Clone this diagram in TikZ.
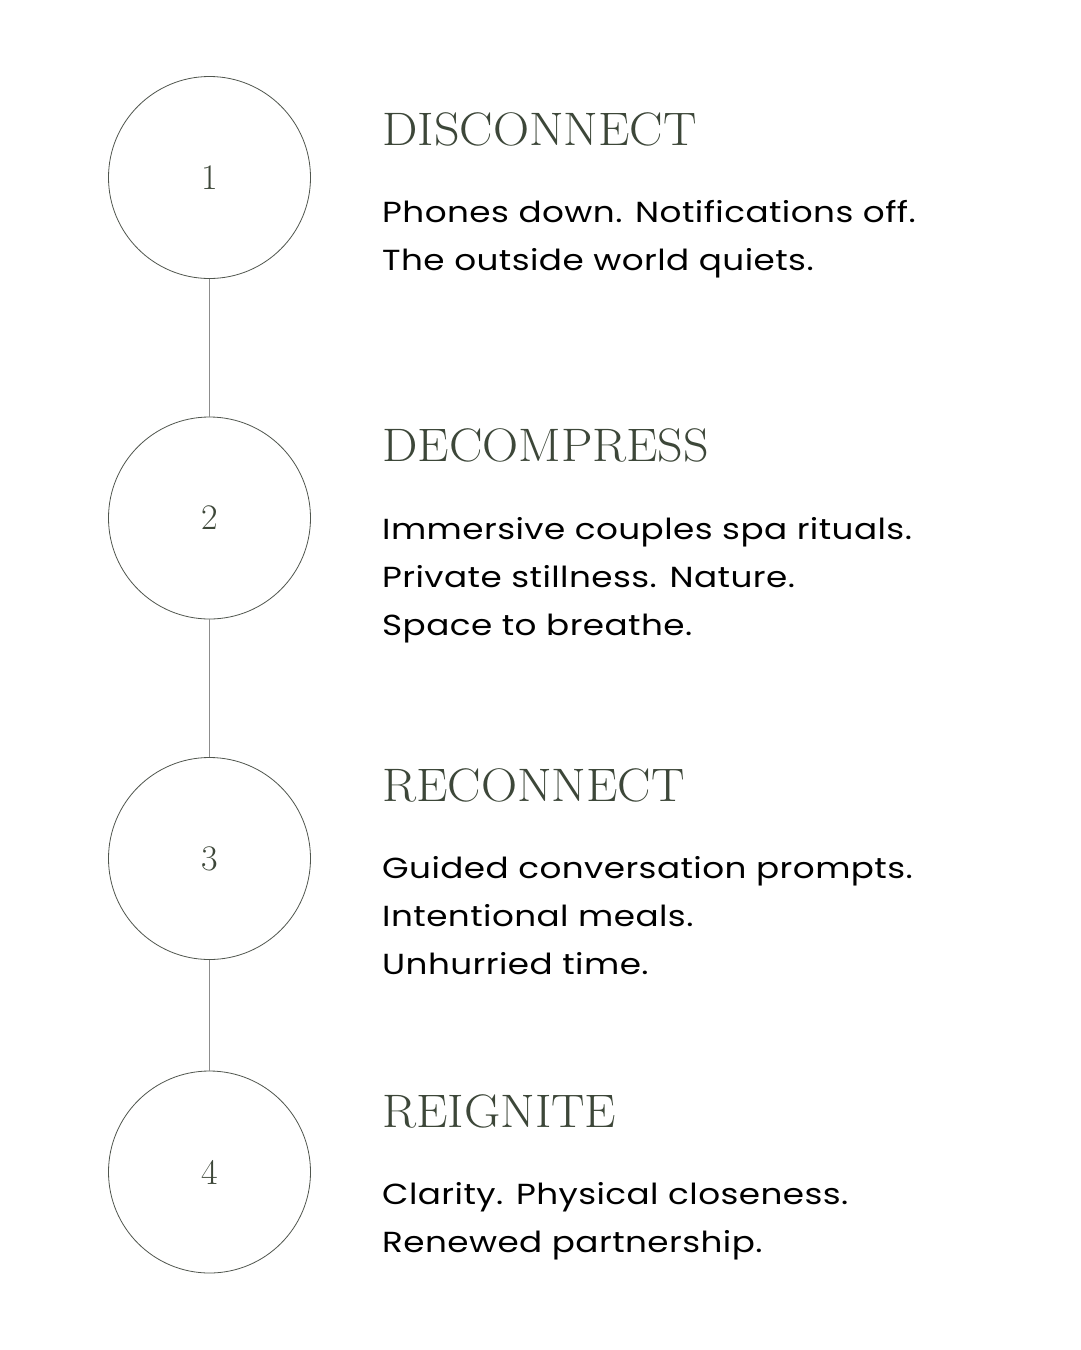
\documentclass[tikz,border=0pt]{standalone}
\usepackage{fontspec}
\newfontfamily\bodyfont[FakeStretch=1.18,LetterSpace=1.5]{Poppins}
\definecolor{ink}{HTML}{3D4739}
\definecolor{ring}{HTML}{50564E}
\definecolor{stem}{HTML}{8C8C8C}
\begin{document}
\begin{tikzpicture}[x=1pt,y=-1pt,
  stepcircle/.style={circle,draw=ring,line width=0.8pt,minimum size=202pt,inner sep=0pt,
    text=ink,font=\fontsize{36}{36}\selectfont},
  stem/.style={draw=stem,line width=1pt},
  title/.style={anchor=base west,inner sep=0pt,text=ink,font=\fontsize{47}{47}\selectfont},
  body/.style={anchor=base west,inner sep=0pt,align=left,text=black,
    font=\bodyfont\fontsize{29}{48}\selectfont}]
\useasboundingbox[fill=white] (0,0) rectangle (1080,1350);
\node[stepcircle] (c1) at (209.5,177.5) {1};
\node[stepcircle] (c2) at (209.5,518) {2};
\node[stepcircle] (c3) at (209.5,858.5) {3};
\node[stepcircle] (c4) at (209.5,1172) {4};
\draw[stem] (c1.south) -- (c2.north);
\draw[stem] (c2.south) -- (c3.north);
\draw[stem] (c3.south) -- (c4.north);
\node[title] (t1) at (382,145) {\scalebox{1.065}[1]{DISCONNECT}};
\node[title] (t2) at (382,461) {\scalebox{1.065}[1]{DECOMPRESS}};
\node[title] (t3) at (382,801) {\scalebox{1.065}[1]{RECONNECT}};
\node[title] (t4) at (382,1127) {\scalebox{1.065}[1]{REIGNITE}};
% anchor is the baseline of the last line
\node[body] (b1) at (382,270) {Phones down. Notifications off.\\The outside world quiets.};
\node[body] (b2) at (382,635) {Immersive couples spa rituals.\\Private stillness. Nature.\\Space to breathe.};
\node[body] (b3) at (382,974) {Guided conversation prompts.\\Intentional meals.\\Unhurried time.};
\node[body] (b4) at (382,1252) {Clarity. Physical closeness.\\Renewed partnership.};
\end{tikzpicture}
\end{document}
